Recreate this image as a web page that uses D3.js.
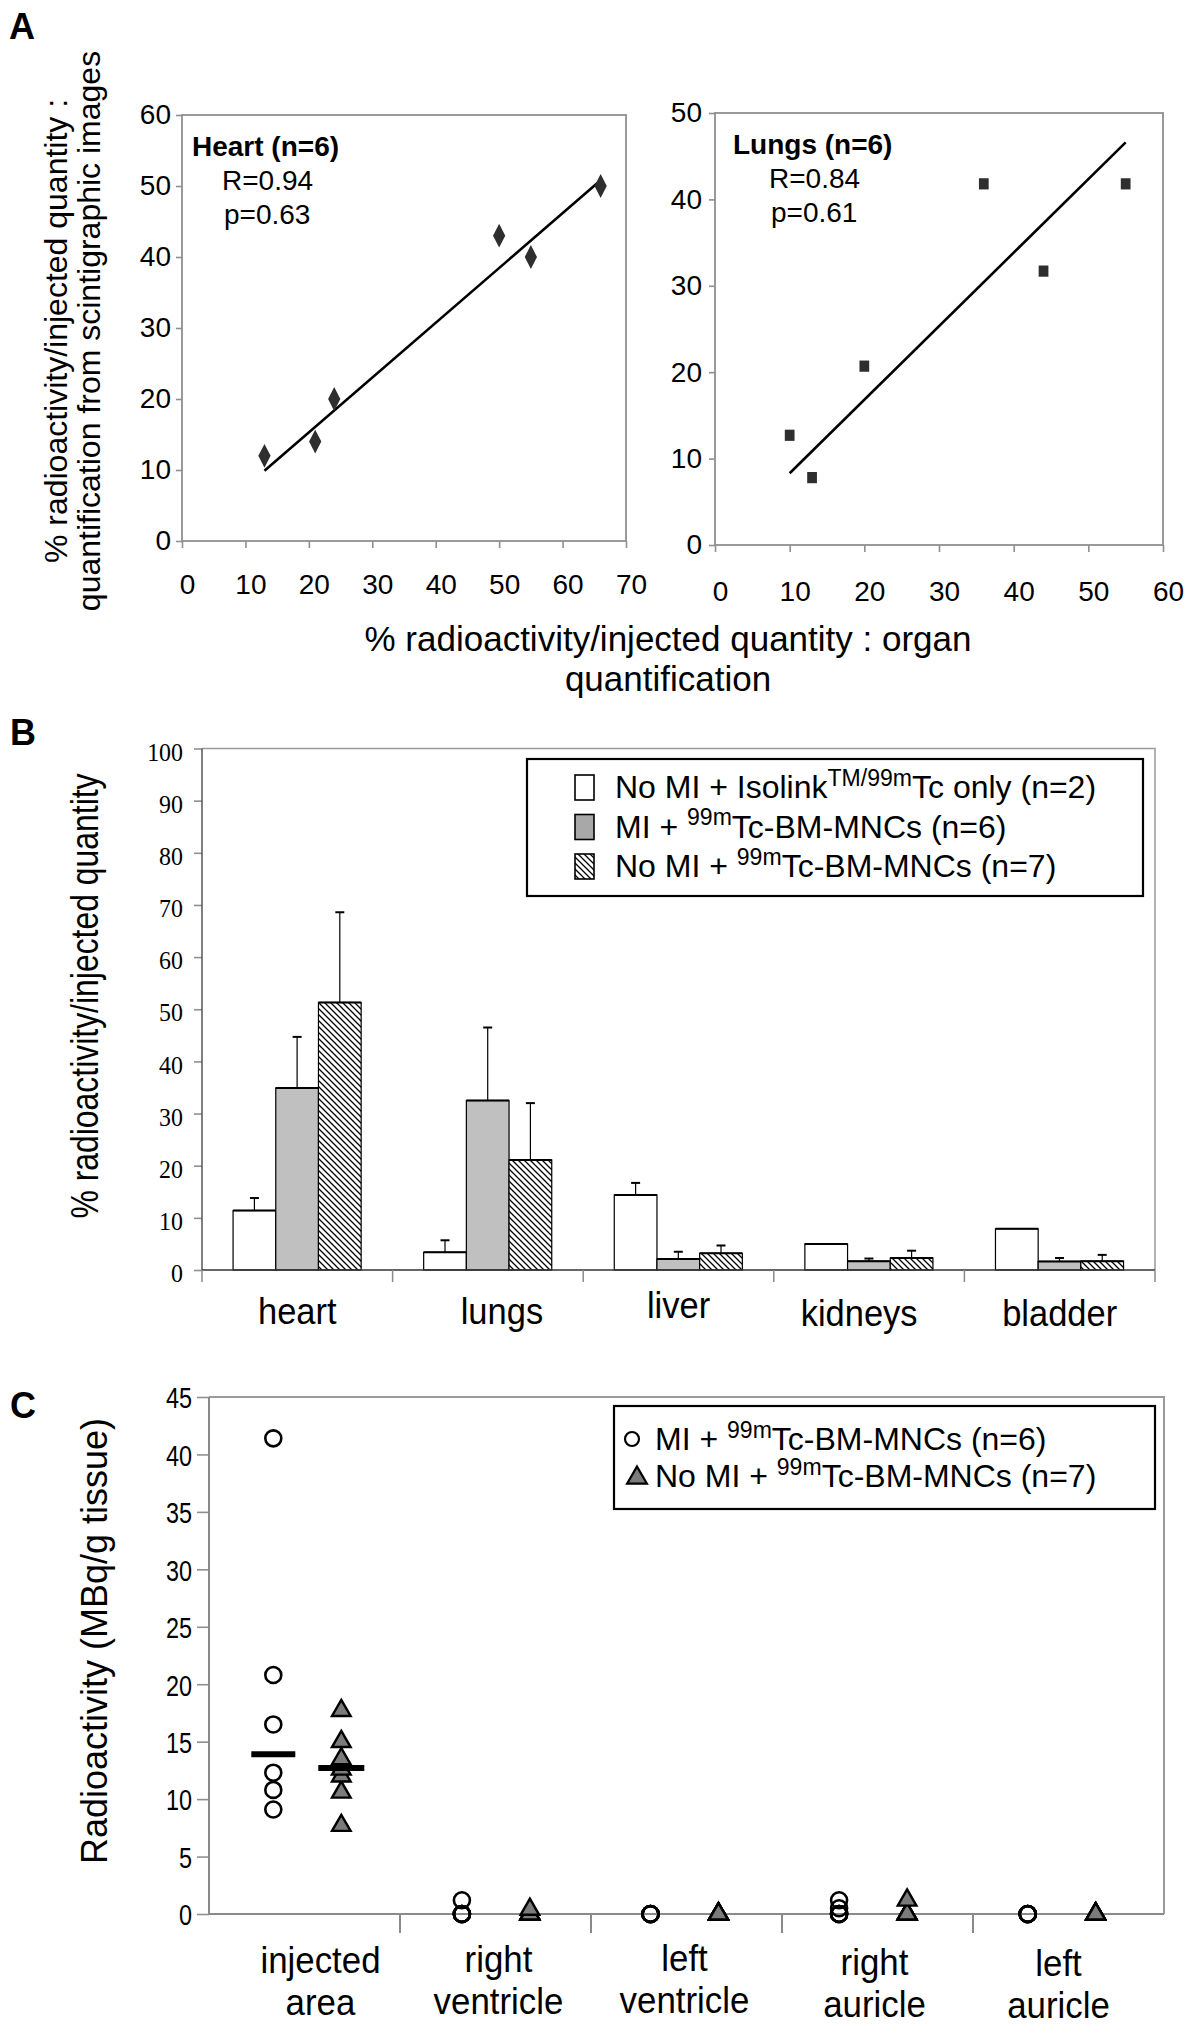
<!DOCTYPE html>
<html><head><meta charset="utf-8">
<script src="https://cdn.jsdelivr.net/npm/d3@7"></script>
<style>
body{margin:0;background:#fff;}
svg{display:block;font-family:"Liberation Sans",Arial,Helvetica,sans-serif;}
</style></head><body>
<svg id="fig" width="1200" height="2035"></svg>
<script>
// ---------- Panel A data ----------
const heartX = [13, 21, 24, 50, 55, 66];
const heartY = [12, 14, 20, 43, 40, 50];
const heartFitX = [13, 66];
const heartFitY = [9.9, 50.8];
const lungsX = [10, 13, 20, 36, 44, 55];
const lungsY = [12.7, 7.8, 20.7, 41.8, 31.7, 41.8];
const lungsFitX = [10, 55];
const lungsFitY = [8.3, 46.6];
const heartXTicks = [0, 10, 20, 30, 40, 50, 60, 70];
const heartYTicks = [0, 10, 20, 30, 40, 50, 60];
const lungsXTicks = [0, 10, 20, 30, 40, 50, 60];
const lungsYTicks = [0, 10, 20, 30, 40, 50];

// ---------- Panel B data ----------
const organs = ["heart", "lungs", "liver", "kidneys", "bladder"];
const seriesB = ["isolink", "mi", "nomi"];
const isolinkMean = [11.4, 3.4, 14.4, 5.0, 7.9];
const isolinkSD   = [2.4, 2.3, 2.3, 0, 0];
const miMean      = [34.9, 32.5, 2.1, 1.7, 1.65];
const miSD        = [9.8, 14.0, 1.4, 0.5, 0.65];
const noMiMean    = [51.3, 21.1, 3.2, 2.3, 1.7];
const noMiSD      = [17.3, 10.9, 1.5, 1.4, 1.2];
const bTicks = [0, 10, 20, 30, 40, 50, 60, 70, 80, 90, 100];

// ---------- Panel C data ----------
const sites = ["injected area", "right ventricle", "left ventricle", "right auricle", "left auricle"];
const siteLine1 = ["injected", "right", "left", "right", "left"];
const siteLine2 = ["area", "ventricle", "ventricle", "auricle", "auricle"];
const miValues = [
  [41.4, 20.8, 16.5, 12.3, 10.8, 9.1],
  [1.2, 0, 0, 0, 0, 0],
  [0, 0, 0, 0, 0, 0],
  [1.2, 0.5, 0, 0, 0, 0],
  [0, 0, 0, 0, 0, 0]
];
const noMiValues = [
  [17.7, 15.0, 13.5, 12.6, 12.0, 10.6, 7.7],
  [0.4, 0, 0, 0, 0, 0, 0],
  [0, 0, 0, 0, 0, 0, 0],
  [1.2, 0, 0, 0, 0, 0, 0],
  [0, 0, 0, 0, 0, 0, 0]
];
const miCentral   = [13.9, null, null, null, null];
const noMiCentral = [12.7, null, null, null, null];
const cTicks = [0, 5, 10, 15, 20, 25, 30, 35, 40, 45];

// label nudges (layout only, as in the original figure)
const catBShift = [[0, 0], [14, 0], [0, -6], [-10, 2], [0, 2]];
const catCShift = [[16, 0], [3, -1], [-2, -2], [-3, 2], [-10, 3]];

const svg = d3.select("#fig");
const FRAME = "#8f8f8f";
const SANS = '"Liberation Sans",Arial,Helvetica,sans-serif';
const SERIF = '"Liberation Serif","Times New Roman",serif';

function sText(parent, x, y, str, size, o = {}) {
  const rot = o.rotate ? ` rotate(${o.rotate})` : "";
  const sx = o.sx || 1;
  return parent.append("text")
    .attr("transform", `translate(${x},${y})${rot} scale(${sx},1)`)
    .attr("text-anchor", o.anchor || "start")
    .style("font-size", size + "px")
    .style("font-family", o.family || SANS)
    .style("font-weight", o.bold ? "bold" : "normal")
    .text(str);
}

function styleAxis(g, fontSize, family, sx) {
  g.select(".domain").remove();
  g.attr("font-family", null).attr("font-size", null);
  g.selectAll(".tick line").attr("stroke", FRAME).attr("stroke-width", 1.6);
  const t = g.selectAll(".tick text").attr("fill", "#000")
    .style("font-size", fontSize + "px").style("font-family", family);
  if (sx && sx !== 1) {
    t.each(function () {
      const el = d3.select(this);
      const x = +el.attr("x") || 0, y = +el.attr("y") || 0;
      el.attr("transform", `translate(${x},${y}) scale(${sx},1)`).attr("x", 0).attr("y", 0);
    });
  }
}

// ================= PANEL A =================
sText(svg, 9, 39, "A", 36, {bold: true});

function scatterPanel(o) {
  const x = d3.scaleLinear().domain([0, o.xMax]).range([o.left, o.right]);
  const y = d3.scaleLinear().domain([0, o.yMax]).range([o.bottom, o.top]);
  const g = svg.append("g");
  g.append("rect").attr("x", o.left).attr("y", o.top).attr("width", o.right - o.left)
    .attr("height", o.bottom - o.top).attr("fill", "none").attr("stroke", FRAME).attr("stroke-width", 1.8);
  const ax = g.append("g").attr("transform", `translate(0,${o.bottom})`)
    .call(d3.axisBottom(x).tickValues(o.xTicks).tickSize(7).tickPadding(o.xPad));
  styleAxis(ax, 28, SANS);
  ax.selectAll(".tick text").attr("dx", 5);
  const ay = g.append("g").attr("transform", `translate(${o.left},0)`)
    .call(d3.axisLeft(y).tickValues(o.yTicks).tickSize(6).tickPadding(o.yPad));
  styleAxis(ay, 28, SANS);
  g.append("line")
    .attr("x1", x(o.fitX[0])).attr("y1", y(o.fitY[0]))
    .attr("x2", x(o.fitX[1])).attr("y2", y(o.fitY[1]))
    .attr("stroke", "#000").attr("stroke-width", 2.6);
  const sym = d3.symbol().type(o.symbol).size(o.symSize);
  g.selectAll("path.pt").data(o.xs.map((v, i) => [v, o.ys[i]])).join("path")
    .attr("class", "pt")
    .attr("transform", d => `translate(${x(d[0])},${y(d[1])}) scale(1,${o.symStretch})`)
    .attr("d", sym).attr("fill", "#2e2e2e");
  sText(g, o.titleX, o.top + 41, o.title, 28, {bold: true});
  sText(g, o.titleX + o.rOff, o.top + 75, o.r, 28);
  sText(g, o.titleX + o.rOff + 2, o.top + 109, o.p, 28);
}

scatterPanel({left: 182, right: 626, top: 115, bottom: 541, xMax: 70, yMax: 60,
  xTicks: heartXTicks, yTicks: heartYTicks, xPad: 26, yPad: 5,
  xs: heartX, ys: heartY, fitX: heartFitX, fitY: heartFitY,
  symbol: d3.symbolDiamond, symSize: 130, symStretch: 1.12,
  title: "Heart (n=6)", r: "R=0.94", p: "p=0.63", titleX: 192, rOff: 30});

scatterPanel({left: 715, right: 1163, top: 113, bottom: 545, xMax: 60, yMax: 50,
  xTicks: lungsXTicks, yTicks: lungsYTicks, xPad: 29, yPad: 7,
  xs: lungsX, ys: lungsY, fitX: lungsFitX, fitY: lungsFitY,
  symbol: d3.symbolSquare, symSize: 95, symStretch: 1.15,
  title: "Lungs (n=6)", r: "R=0.84", p: "p=0.61", titleX: 733, rOff: 36});

sText(svg, 67, 331, "% radioactivity/injected quantity :", 32, {rotate: -90, anchor: "middle"});
sText(svg, 100, 331, "quantification from scintigraphic images", 32, {rotate: -90, anchor: "middle"});
sText(svg, 668, 651, "% radioactivity/injected quantity : organ", 35, {anchor: "middle"});
sText(svg, 668, 691, "quantification", 35, {anchor: "middle"});

// ================= PANEL B =================
sText(svg, 10, 745, "B", 36, {bold: true});

const defs = svg.append("defs");
const pat = defs.append("pattern").attr("id", "hatch").attr("patternUnits", "userSpaceOnUse")
  .attr("width", 6).attr("height", 6);
pat.append("rect").attr("width", 6).attr("height", 6).attr("fill", "#fff");
pat.append("path").attr("d", "M-1,-1 L7,7 M-1,5 L1,7 M5,-1 L7,1")
  .attr("stroke", "#000").attr("stroke-width", 1.3);

const B = {left: 202, right: 1155, top: 748.5, bottom: 1270};
const xB = d3.scaleBand().domain(organs).range([B.left, B.right]);
const xBin = d3.scaleBand().domain(seriesB)
  .range([xB.bandwidth() * 0.163, xB.bandwidth() * 0.835]);
const yB = d3.scaleLinear().domain([0, 100]).range([B.bottom, B.top]);
const fillB = {isolink: "#ffffff", mi: "#c0c0c0", nomi: "url(#hatch)"};
const meansB = {isolink: isolinkMean, mi: miMean, nomi: noMiMean};
const sdB = {isolink: isolinkSD, mi: miSD, nomi: noMiSD};

svg.append("path").attr("d", `M${B.left},${B.top} H${B.right} V${B.bottom}`)
  .attr("fill", "none").attr("stroke", "#9a9a9a").attr("stroke-width", 1.5);
const ayB = svg.append("g").attr("transform", `translate(${B.left},0)`)
  .call(d3.axisLeft(yB).tickValues(bTicks).tickSize(8).tickPadding(11));
styleAxis(ayB, 26, SERIF, 0.92);
ayB.selectAll(".tick text").attr("dy", "0.45em");
svg.append("line").attr("x1", B.left).attr("x2", B.left).attr("y1", B.top).attr("y2", B.bottom)
  .attr("stroke", "#555").attr("stroke-width", 1.5);

const barsB = svg.append("g");
seriesB.forEach(s => {
  organs.forEach((o, i) => {
    const x0 = xB(o) + xBin(s);
    const w = xBin.bandwidth();
    const m = meansB[s][i], sd = sdB[s][i];
    barsB.append("rect").attr("x", x0).attr("y", yB(m)).attr("width", w)
      .attr("height", yB(0) - yB(m)).attr("fill", fillB[s]).attr("stroke", "#000").attr("stroke-width", 1.2);
    barsB.append("line").attr("x1", x0).attr("x2", x0 + w).attr("y1", yB(m)).attr("y2", yB(m))
      .attr("stroke", "#000").attr("stroke-width", 2);
    if (sd > 0) {
      const cx = x0 + w / 2;
      barsB.append("line").attr("x1", cx).attr("x2", cx).attr("y1", yB(m)).attr("y2", yB(m + sd))
        .attr("stroke", "#000").attr("stroke-width", 1.2);
      barsB.append("line").attr("x1", cx - 4.5).attr("x2", cx + 4.5).attr("y1", yB(m + sd)).attr("y2", yB(m + sd))
        .attr("stroke", "#000").attr("stroke-width", 2);
    }
  });
});
svg.append("line").attr("x1", B.left).attr("x2", B.right).attr("y1", B.bottom).attr("y2", B.bottom)
  .attr("stroke", "#333").attr("stroke-width", 1.5);
const sepB = organs.map(o => xB(o)).concat([B.right]);
svg.selectAll("line.sepB").data(sepB).join("line").attr("class", "sepB")
  .attr("x1", d => d).attr("x2", d => d).attr("y1", B.bottom).attr("y2", B.bottom + 12)
  .attr("stroke", "#8a8a8a").attr("stroke-width", 1.5);
organs.forEach((o, i) => sText(svg, xB(o) + xB.bandwidth() / 2 + catBShift[i][0], 1324 + catBShift[i][1],
  o, 37.5, {anchor: "middle", sx: 0.92}));
sText(svg, 98, 996, "% radioactivity/injected quantity", 38, {rotate: -90, anchor: "middle", sx: 0.84});

// legend B
function richText(g, x, y, parts, size) {
  const t = g.append("text").attr("x", x).attr("y", y).style("font-size", size + "px");
  let prevSup = false;
  parts.forEach(([s, sup]) => {
    const ts = t.append("tspan").text(s);
    if (sup && !prevSup) ts.attr("dy", -size * 0.38).style("font-size", (size * 0.72) + "px");
    else if (!sup && prevSup) ts.attr("dy", size * 0.38);
    prevSup = !!sup;
  });
  return t;
}
const legB = svg.append("g");
legB.append("rect").attr("x", 527).attr("y", 759).attr("width", 616).attr("height", 137)
  .attr("fill", "#fff").attr("stroke", "#000").attr("stroke-width", 2.2);
const legBRows = [
  {fill: "#ffffff", parts: [["No MI + Isolink", 0], ["TM/99m", 1], ["Tc only (n=2)", 0]]},
  {fill: "#a8a8a8", parts: [["MI + ", 0], ["99m", 1], ["Tc-BM-MNCs (n=6)", 0]]},
  {fill: "url(#hatch)", parts: [["No MI + ", 0], ["99m", 1], ["Tc-BM-MNCs (n=7)", 0]]}
];
legBRows.forEach((r, i) => {
  const cy = 787 + i * 39.5;
  legB.append("rect").attr("x", 575).attr("y", cy - 12).attr("width", 19).attr("height", 25)
    .attr("fill", r.fill).attr("stroke", "#000").attr("stroke-width", 1.6);
  richText(legB, 615, cy + 11, r.parts, 32);
});

// ================= PANEL C =================
sText(svg, 10, 1418, "C", 36, {bold: true});

const C = {left: 209, right: 1164, top: 1397, bottom: 1914};
const xC = d3.scaleBand().domain(sites).range([C.left, C.right]);
const xCpts = d3.scaleBand().domain(sites).range([C.left, C.left + 5 * 188.6]);
const yC = d3.scaleLinear().domain([0, 45]).range([C.bottom, C.top]);
svg.append("path").attr("d", `M${C.left},${C.top} H${C.right} V${C.bottom}`)
  .attr("fill", "none").attr("stroke", "#9a9a9a").attr("stroke-width", 2);
const ayC = svg.append("g").attr("transform", `translate(${C.left},0)`)
  .call(d3.axisLeft(yC).tickValues(cTicks).tickSize(12).tickPadding(5));
styleAxis(ayC, 30, SANS, 0.78);
ayC.selectAll(".tick text").attr("dy", "0.36em");
svg.append("line").attr("x1", C.left).attr("x2", C.left).attr("y1", C.top).attr("y2", C.bottom)
  .attr("stroke", "#8a8a8a").attr("stroke-width", 2);
svg.append("line").attr("x1", C.left).attr("x2", C.right).attr("y1", C.bottom).attr("y2", C.bottom)
  .attr("stroke", "#8a8a8a").attr("stroke-width", 2);
const sepC = sites.slice(1).map(s => xC(s));
svg.selectAll("line.sepC").data(sepC).join("line").attr("class", "sepC")
  .attr("x1", d => d).attr("x2", d => d).attr("y1", C.bottom).attr("y2", C.bottom + 19)
  .attr("stroke", "#8a8a8a").attr("stroke-width", 2);

const offMI = -30, offNo = 38;
const ptsC = svg.append("g");
sites.forEach((s, i) => {
  const cx = xCpts(s) + xCpts.bandwidth() / 2;
  miValues[i].slice().reverse().forEach(v => {
    ptsC.append("circle").attr("cx", cx + offMI).attr("cy", yC(v)).attr("r", 8)
      .attr("fill", "none").attr("stroke", "#000").attr("stroke-width", 2.6);
  });
  noMiValues[i].slice().reverse().forEach(v => {
    ptsC.append("path").attr("d", d3.symbol().type(d3.symbolTriangle).size(150))
      .attr("transform", `translate(${cx + offNo},${yC(v)})`)
      .attr("fill", "#7b7b7b").attr("stroke", "#000").attr("stroke-width", 2.4);
  });
  if (miCentral[i] != null) {
    ptsC.append("line").attr("x1", cx + offMI - 22).attr("x2", cx + offMI + 22)
      .attr("y1", yC(miCentral[i])).attr("y2", yC(miCentral[i])).attr("stroke", "#000").attr("stroke-width", 6);
  }
  if (noMiCentral[i] != null) {
    ptsC.append("line").attr("x1", cx + offNo - 23).attr("x2", cx + offNo + 23)
      .attr("y1", yC(noMiCentral[i])).attr("y2", yC(noMiCentral[i])).attr("stroke", "#000").attr("stroke-width", 6);
  }
});
sites.forEach((s, i) => {
  const cx = xC(s) + xC.bandwidth() / 2 + catCShift[i][0];
  sText(svg, cx, 1973 + catCShift[i][1], siteLine1[i], 37.5, {anchor: "middle", sx: 0.93});
  sText(svg, cx, 2015 + catCShift[i][1], siteLine2[i], 37.5, {anchor: "middle", sx: 0.93});
});
sText(svg, 107, 1641, "Radioactivity (MBq/g tissue)", 36, {rotate: -90, anchor: "middle"});

// legend C
const legC = svg.append("g");
legC.append("rect").attr("x", 614).attr("y", 1406).attr("width", 541).attr("height", 103)
  .attr("fill", "#fff").attr("stroke", "#000").attr("stroke-width", 2.2);
legC.append("circle").attr("cx", 632).attr("cy", 1439).attr("r", 7)
  .attr("fill", "none").attr("stroke", "#000").attr("stroke-width", 2.2);
legC.append("path").attr("d", d3.symbol().type(d3.symbolTriangle).size(170))
  .attr("transform", "translate(637,1478)").attr("fill", "#7b7b7b").attr("stroke", "#000").attr("stroke-width", 2.2);
richText(legC, 655, 1450, [["MI + ", 0], ["99m", 1], ["Tc-BM-MNCs (n=6)", 0]], 32);
richText(legC, 655, 1487, [["No MI + ", 0], ["99m", 1], ["Tc-BM-MNCs (n=7)", 0]], 32);
</script>
</body></html>
